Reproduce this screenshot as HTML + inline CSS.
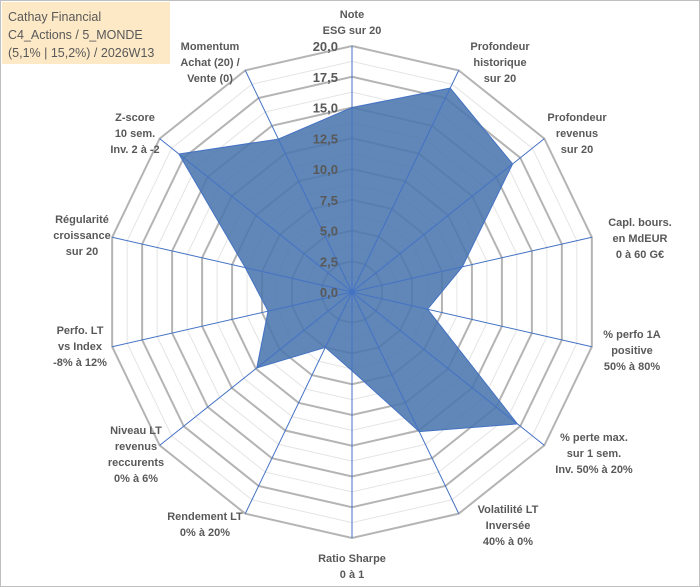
<!DOCTYPE html>
<html><head><meta charset="utf-8"><style>
html,body{margin:0;padding:0;background:#fff}
svg{display:block;font-family:"Liberation Sans",Arial,sans-serif}
</style></head><body>
<svg id="chart" width="700" height="587" viewBox="0 0 700 587">
<rect x="0.5" y="0.5" width="699" height="586" fill="#fff" stroke="#bfbfbf"/>
<g id="grid"></g>
<g id="series"></g>
<g id="axes"></g>
<g id="ticks"></g>
<g id="labels"></g>
<g>
<rect x="2" y="2" width="168" height="62" fill="#fde9c6"/>
<text x="8" y="21" font-size="12.5" fill="#595959">Cathay Financial</text>
<text x="8" y="39" font-size="12.5" fill="#595959">C4_Actions / 5_MONDE</text>
<text x="8" y="57" font-size="12.5" fill="#595959">(5,1% | 15,2%) / 2026W13</text>
</g>
</svg>
<script>
const categories = [
 ["Note","ESG sur 20"],
 ["Profondeur","historique","sur 20"],
 ["Profondeur","revenus","sur 20"],
 ["Capl. bours.","en MdEUR","0 à 60 G€"],
 ["% perfo 1A","positive","50% à 80%"],
 ["% perte max.","sur 1 sem.","Inv. 50% à 20%"],
 ["Volatilité LT","Inversée","40% à 0%"],
 ["Ratio Sharpe","0 à 1"],
 ["Rendement LT","0% à 20%"],
 ["Niveau LT","revenus","reccurents","0% à 6%"],
 ["Perfo. LT","vs Index","-8% à 12%"],
 ["Régularité","croissance","sur 20"],
 ["Z-score","10 sem.","Inv. 2 à -2"],
 ["Momentum","Achat (20) /","Vente (0)"]
];
const values = [15.0, 18.4, 16.7, 9.2, 6.3, 17.2, 12.6, 6.4, 5.0, 9.9, 7.0, 8.9, 18.0, 13.8];
const tickLabels = ["0,0","2,5","5,0","7,5","10,0","12,5","15,0","17,5","20,0"];
const maxVal = 20;
const cx = 352, cy = 292, R = 246;
const NS = "http://www.w3.org/2000/svg";
const n = categories.length;
function ang(i){ return i*2*Math.PI/n; }
function pt(i, v){ const r = v/maxVal*R; return [cx + r*Math.sin(ang(i)), cy - r*Math.cos(ang(i))]; }
function mk(tag, attrs, parent){ const e=document.createElementNS(NS,tag); for(const k in attrs) e.setAttribute(k, attrs[k]); parent.appendChild(e); return e; }
const grid=document.getElementById('grid');
for(let k=1;k<=16;k++){
  const v=k*maxVal/16;
  const pts=[]; for(let i=0;i<n;i++) pts.push(pt(i,v).join(','));
  const major = k%2===0;
  const p=mk('polygon',{points:pts.join(' '),fill:'none',stroke:major?'#b4b4b4':'#e4e4e4','stroke-width':major?2:1},grid);
  
  
}
const series=document.getElementById('series');
const sp=[]; for(let i=0;i<n;i++) sp.push(pt(i,values[i]).join(','));
const poly=mk('polygon',{points:sp.join(' '),fill:'#4a76ad','fill-opacity':0.88,stroke:'#4472c4','stroke-width':1},series);


const axes=document.getElementById('axes');
for(let i=0;i<n;i++){
  const e=pt(i,maxVal);
  const l=mk('line',{x1:cx,y1:cy,x2:e[0],y2:e[1],stroke:'#4472c4','stroke-width':1},axes);
  
  
}
mk('circle',{cx:cx,cy:cy,r:2.5,fill:'#4472c4'},axes);
const ticks=document.getElementById('ticks');
for(let k=0;k<tickLabels.length;k++){
  const y=cy - (k*2.5)/maxVal*R;
  const t=mk('text',{x:338,y:y+5,'text-anchor':'end','font-size':13,'font-weight':'bold',fill:'#595959'},ticks);
  t.textContent=tickLabels[k];
  
  
}
const labelPos=[[352,14],[500,46],[577,117],[640,222],[632,334],[594,437],[508,509],[352,558],[205,516],[136,430],[80,330],[82,219],[135,117],[210,46]];
const labels=document.getElementById('labels');
for(let i=0;i<n;i++){
  const g=mk('text',{'text-anchor':'middle','font-size':11,'font-weight':'bold',fill:'#595959'},labels);
  
  
  categories[i].forEach((line,j)=>{
    const ts=mk('tspan',{x:labelPos[i][0],y:labelPos[i][1]+j*16+4},g);
    ts.textContent=line;
  });
}
</script>
</body></html>
